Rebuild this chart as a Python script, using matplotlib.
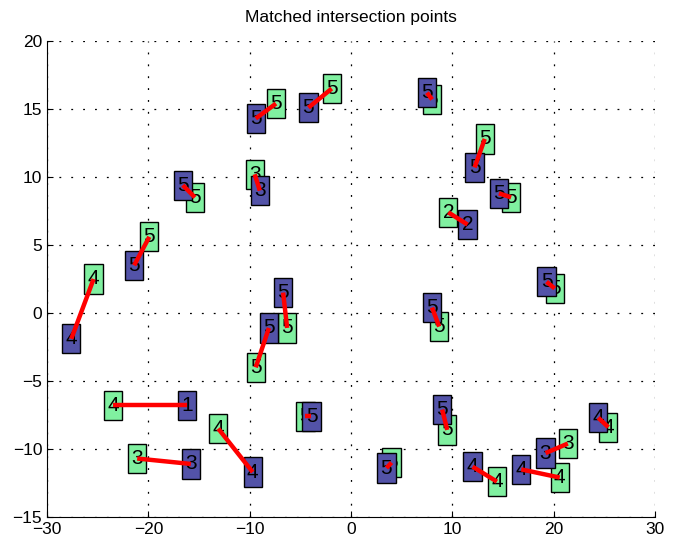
import matplotlib
matplotlib.use('Agg')
import matplotlib.pyplot as plt
from matplotlib.patches import Rectangle

plt.rcParams['font.family'] = ['Liberation Sans', 'DejaVu Sans']

# matched points: blue (first set) and green (second set)
blue_x = [-27.6, -21.4, -16.6, -9.4, -4.2, -9.0, -6.7, -8.1, -3.9, -16.2, -15.8, -9.7,
          3.5, 7.5, 12.2, 14.6, 11.5, 19.3, 8.0, 9.0, 12.0, 16.8, 19.2, 24.4]
blue_y = [-1.9, 3.5, 9.4, 14.3, 15.1, 9.0, 1.5, -1.1, -7.6, -6.8, -11.1, -11.7,
          -11.4, 16.2, 10.7, 8.8, 6.5, 2.3, 0.4, -7.1, -11.3, -11.5, -10.3, -7.7]
blue_lab = ['4', '5', '5', '5', '5', '3', '5', '5', '5', '1', '3', '4',
            '5', '5', '5', '5', '2', '5', '5', '5', '4', '4', '3', '4']

green_x = [-25.4, -19.9, -15.4, -7.4, -1.9, -9.5, -6.3, -9.4, -4.5, -23.5, -21.1, -13.1,
           4.0, 8.0, 13.2, 15.8, 9.6, 20.1, 8.7, 9.5, 14.4, 20.6, 21.4, 25.4]
green_y = [2.5, 5.6, 8.5, 15.4, 16.5, 10.2, -1.1, -4.0, -7.6, -6.8, -10.7, -8.5,
           -11.0, 15.7, 12.8, 8.5, 7.4, 1.8, -1.0, -8.6, -12.4, -12.1, -9.6, -8.4]
green_lab = ['4', '5', '5', '5', '5', '3', '5', '5', '5', '4', '3', '4',
             '5', '5', '5', '5', '2', '5', '5', '5', '4', '4', '3', '4']

box_w, box_h = 1.8, 2.15

fig = plt.figure(figsize=(6.82, 5.45), dpi=100)
ax = fig.add_axes([0.0689, 0.0514, 0.8915, 0.8734])


def label_boxes(xs, ys, labels, color, z):
    for x, y, s in zip(xs, ys, labels):
        ax.add_patch(Rectangle((x - box_w / 2, y - box_h / 2), box_w, box_h,
                               fc=color, ec='black', lw=1, zorder=z))
        ax.text(x, y, s, ha='center', va='center', fontsize=15, zorder=z + 0.1)


label_boxes(green_x, green_y, green_lab, '#80f0a0', 3)
label_boxes(blue_x, blue_y, blue_lab, '#5353a8', 4)

for bx, by, gx, gy in zip(blue_x, blue_y, green_x, green_y):
    ax.plot([bx, gx], [by, gy], color='red', lw=3.2, zorder=6, solid_capstyle='butt')

ax.set_xlim(-30, 30)
ax.set_ylim(-15, 20)
ax.set_xticks(range(-30, 31, 10))
ax.set_yticks(range(-15, 21, 5))
ax.grid(True, linestyle=(0, (1.5, 8)), color='black', lw=0.9)
ax.spines['top'].set_visible(False)
ax.spines['right'].set_visible(False)
ax.tick_params(direction='in', labelsize=12.5, length=4)
ax.set_title('Matched intersection points', fontsize=12.5, pad=14)

fig.savefig('out.png', dpi=100)
